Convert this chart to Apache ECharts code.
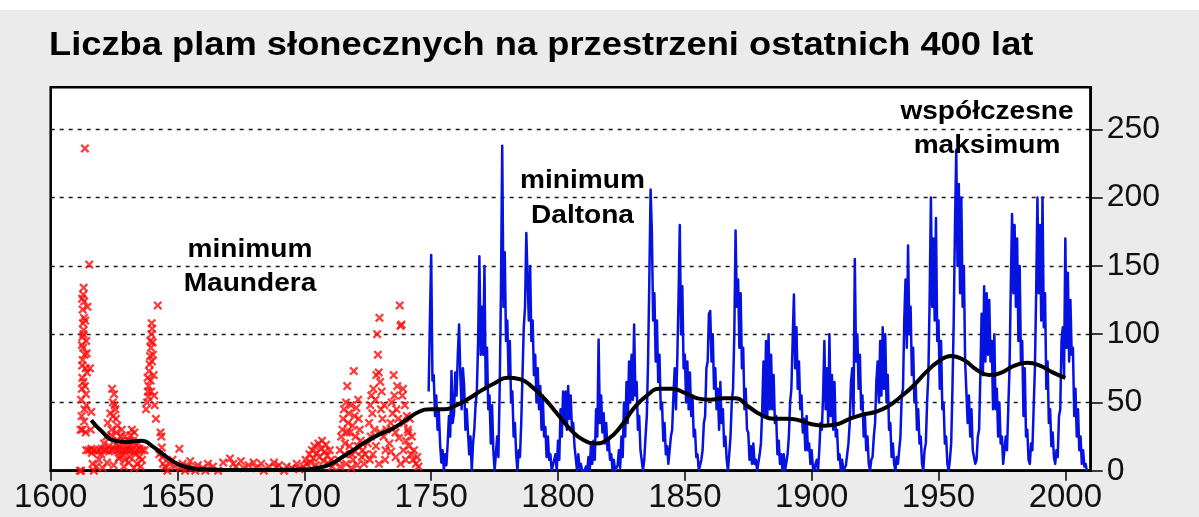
<!DOCTYPE html>
<html lang="pl">
<head>
<meta charset="utf-8">
<title>Liczba plam słonecznych na przestrzeni ostatnich 400 lat</title>
<script src="https://cdn.jsdelivr.net/npm/echarts@6/dist/echarts.min.js"></script>
<style>
  html, body { margin: 0; padding: 0; background: #ebebeb; }
  #chart {
    width: 1199px; height: 517px;
    background: linear-gradient(#ffffff 0, #ffffff 10px, #ebebeb 10px, #ebebeb 100%);
  }
</style>
</head>
<body>
<div id="chart"></div>
<script>
// Axis ticks
const xTicks = [1600, 1650, 1700, 1750, 1800, 1850, 1900, 1950, 2000];
const yTicks = [0, 50, 100, 150, 200, 250];

// Telescopic group counts before regular records: [year, sunspot number]
const groupSpots = [
  [1611.5,0],[1612,0],[1611.8,30],[1612,52],[1612.3,60],[1612.5,68],[1612.4,77],[1612.6,81],
  [1612.8,90],[1612.5,98],[1612.9,100],[1613,103],[1612.7,108],[1613.1,112],[1612.6,118],
  [1613.2,124],[1612.8,129],[1613,134],[1613.5,236],[1615.2,151],[1614.5,120],[1614,95],
  [1614.2,86],[1613.8,75],[1614.3,72],[1613.5,62],[1613.9,56],[1614.1,48],[1613.3,45],
  [1615.5,75],[1616,43],[1615.8,30],[1612.5,30],[1613.8,28],[1616.2,13],
  [1612.2,40],[1612.9,65],[1613.4,85],[1612.3,92],[1613.6,110],[1612.4,126],[1613.2,36],
  [1614,15],[1615,15],[1616,16],[1617,15],[1618,14],[1619,15],[1620,16],[1621,15],[1622,15],
  [1623,14],[1624,15],[1625,16],[1626,15],[1627,15],[1628,14],[1629,15],[1630,16],[1631,15],
  [1632,15],[1633,14],[1634,15],[1635,16],[1636,15],[1637,15],
  [1616.5,5],[1617,0],[1618,3],[1619,8],[1620,12],[1621,20],[1622,25],[1622.5,35],[1623,18],
  [1623.5,42],[1624,30],[1624.5,50],[1625,56],[1624.2,60],[1625.5,45],[1625.7,38],[1626,28],
  [1626.3,33],[1626.5,22],[1627,18],[1627.5,25],[1628,30],[1628.5,12],[1629,20],[1629.5,8],
  [1630,15],[1630.5,22],[1631,18],[1631.5,26],[1632,30],[1632.5,22],[1633,28],[1633.5,12],
  [1634,5],[1634.5,20],[1635,10],[1635.5,3],[1636,8],[1620.5,2],[1622.2,6],[1624.8,4],
  [1626.8,9],[1628.8,3],[1630.8,6],[1632.8,2],[1623.8,26],[1624.6,40],[1625.2,48],
  [1625.9,20],[1627.2,10],[1629.2,25],[1631.2,10],[1633.2,20],
  [1637.6,45],[1638,50],[1638.3,58],[1638.6,62],[1638.2,68],[1638.8,73],[1639,78],[1639.2,84],
  [1639.5,90],[1639.3,95],[1639.7,100],[1640,104],[1639.8,108],[1640.3,85],[1640.6,70],
  [1640.8,55],[1641,48],[1642.2,121],[1641.5,38],[1643.3,28],[1643.6,25],[1643.8,17],
  [1644,10],[1644.3,5],[1642.8,12],[1645,3],[1646,0],[1638.5,54],[1639.4,66],[1639.9,80],
  [1640.2,94],[1639.6,58],
  [1650.7,16],[1647,5],[1648,8],[1649,3],[1651,2],[1652,5],[1653,0],[1654,3],[1655,7],
  [1656,2],[1657,0],[1658,4],[1660,2],[1661,0],[1662,5],[1664,3],[1666,0],[1668,6],
  [1670.7,9],[1672,5],[1673,3],[1675,7],[1676,2],[1678,4],[1680,6],[1681,2],[1683,5],
  [1684,0],[1686,3],[1688,6],[1689,2],[1690,4],[1692,0],[1693,3],[1695,2],[1697,5],[1698,1],
  [1699.6,3],[1700.5,8],[1701,5],[1702,12],[1702.5,6],[1703,15],[1703.5,9],[1704,18],
  [1704.5,4],[1705,13],[1705.5,20],[1706,10],[1706.5,16],[1707,22],[1707.5,7],[1708,14],
  [1708.5,19],[1709,11],[1709.5,5],[1710,15],[1710.5,8],[1711,3],[1712,6],
  [1713.5,8],[1714,15],[1714.5,25],[1715,30],[1715.3,38],[1715.6,45],[1716,20],[1716.4,50],
  [1716.9,62],[1717.2,35],[1717.5,42],[1718,28],[1718.3,48],[1718.7,12],[1719,33],
  [1719.5,73],[1719.8,40],[1720.2,25],[1720.5,46],[1721,18],[1721.4,38],[1721.8,30],
  [1722.2,22],[1722.6,10],[1723,15],[1723.5,5],[1724,12],[1714.2,3],[1716.5,5],[1718.5,2],
  [1720.8,4],[1715.8,12],[1716.8,28],[1717.8,18],[1719.2,8],[1720,14],[1721.2,52],
  [1725,20],[1725.5,35],[1726,48],[1726.4,55],[1726.8,42],[1727.2,60],[1727.6,30],[1728,52],
  [1728.4,70],[1728.7,100],[1729,85],[1729.3,72],[1729.6,112],[1729.9,65],[1730.2,45],
  [1730.5,58],[1730.8,38],[1731.2,25],[1731.5,48],[1732,15],[1732.4,30],[1725.8,8],
  [1727,12],[1729.4,5],[1726.2,25],[1728.2,18],[1730,28],[1731.8,8],
  [1733.5,20],[1734,35],[1734.4,50],[1734.8,42],[1735.2,70],[1735.5,55],[1735.9,28],
  [1736.3,45],[1736.6,62],[1737,38],[1737.6,121],[1737.9,106],[1738.3,107],[1738.6,55],
  [1738.9,60],[1739.2,35],[1739.6,48],[1740,22],[1740.4,40],[1740.8,30],[1741.2,18],
  [1741.6,38],[1742,12],[1742.4,25],[1742.8,8],[1743.2,15],[1744,5],[1744.5,10],[1745,3],
  [1736,10],[1738,5],[1740,8],[1734.2,14],[1737.3,24],[1739,15],[1741,28]
];

// Observed sunspot numbers from 1749: two readings per year (early, mid-year)
const observedStart = 1749;
const observedSpots = [
  [58,110],[158,66],[70,40],[55,30],[44,20],[6,15],[0,12],[4,20],[40,25],[73,35],
  [42,72],[55,85],[107,70],[45,75],[62,30],[45,28],[12,25],[0,20],[30,48],[58,95],
  [157,85],[120,85],[150,60],[90,45],[55,20],[48,15],[0,12],[25,10],[60,130],[238,120],
  [160,95],[110,70],[95,50],[58,25],[35,12],[0,15],[10,35],[70,105],[120,174],[140,110],
  [150,95],[110,70],[85,50],[75,45],[62,30],[55,25],[32,10],[25,8],[12,0],[0,8],
  [12,0],[22,8],[45,25],[58,35],[58,30],[62,38],[55,30],[35,18],[18,0],[12,2],
  [5,0],[0,0],[3,0],[10,0],[20,5],[22,8],[45,25],[96,35],[55,28],[42,20],
  [35,15],[22,8],[12,0],[8,0],[0,4],[15,2],[25,10],[50,25],[65,35],[80,50],
  [85,52],[107,55],[65,30],[40,15],[15,0],[8,25],[40,80],[140,206],[175,110],[130,80],
  [110,65],[85,45],[50,22],[35,12],[18,5],[5,25],[30,55],[75,45],[80,125],[180,100],
  [135,75],[85,50],[80,45],[72,40],[55,25],[30,10],[12,0],[0,8],[15,35],[40,75],
  [80,115],[117,80],[100,60],[75,45],[60,30],[65,35],[45,18],[25,8],[0,12],[25,50],
  [60,100],[176,120],[140,90],[130,75],[90,45],[60,30],[28,8],[18,5],[20,5],[8,0],
  [0,12],[20,45],[80,40],[95,40],[100,45],[85,45],[70,35],[40,12],[22,5],[12,0],
  [12,0],[0,12],[25,50],[60,95],[129,75],[105,60],[80,45],[55,28],[38,15],[40,15],
  [20,5],[15,2],[0,5],[8,0],[15,35],[30,55],[95,45],[75,35],[100,40],[70,30],
  [65,25],[30,8],[12,0],[8,0],[0,4],[5,20],[35,65],[75,40],[155,80],[100,60],
  [85,45],[55,25],[40,15],[25,5],[0,8],[10,25],[35,65],[80,50],[95,55],[105,60],
  [100,50],[70,30],[35,10],[20,5],[0,10],[5,15],[25,55],[60,110],[140,90],[165,100],
  [120,70],[90,50],[65,30],[45,20],[25,5],[0,15],[20,50],[70,125],[200,120],[170,110],
  [185,95],[110,60],[95,45],[50,20],[25,5],[0,8],[20,60],[110,180],[235,150],[210,130],
  [200,120],[150,80],[80,35],[55,25],[45,15],[15,5],[8,25],[30,70],[115,70],[135,80],
  [130,85],[125,80],[95,45],[100,45],[60,25],[50,20],[25,5],[5,25],[15,45],[75,135],
  [188,130],[180,120],[170,95],[150,80],[95,40],[75,25],[30,8],[5,20],[15,45],[75,130],
  [200,130],[180,110],[200,105],[130,60],[80,35],[45,18],[28,10],[5,15],[10,40],[45,95],
  [105,70],[170,90],[145,80],[125,85],[90,40],[60,25],[45,15],[25,5],[15,3],[5,0]
];

// Long-term smoothed activity
const smoothYears = [1616,1620,1625,1630,1636,1640,1645,1650,1655,1660,1670,1680,1690,1700,
  1705,1710,1715,1720,1725,1730,1735,1740,1745,1750,1755,1760,1765,1770,1775,1780,1785,
  1790,1795,1800,1805,1810,1815,1820,1825,1830,1835,1840,1845,1850,1855,1860,1865,1870,
  1875,1880,1885,1890,1895,1900,1905,1910,1915,1920,1925,1930,1935,1940,1945,1950,1955,
  1960,1965,1970,1975,1980,1985,1990,1995,2000];
const smoothValues = [37,29,22,21,22,18,11,5,2,1,0.5,0.5,0.5,0.8,
  2,4.5,10,16,22,27,31,37,43,45,45,48,53,59,64,68,67,
  61,52,41,30,22.5,20,23.5,33,46,55,60,60,57,53,52,53,53,
  47,41,38,38,37,34,33,34,38,41,43,47,54,62,72,80,84,
  81,74,70,72,77,79,77,72,68];

const observedData = [];
observedSpots.forEach((pair, i) => {
  observedData.push([observedStart + i, pair[0]]);
  observedData.push([observedStart + i + 0.5, pair[1]]);
});
const smoothData = smoothYears.map((y, i) => [y, smoothValues[i]]);

// Filled "x" marker
const crossPath = 'path://M0,1.8L1.8,0L5,3.2L8.2,0L10,1.8L6.8,5L10,8.2L8.2,10L5,6.8L1.8,10L0,8.2L3.2,5Z';
const textFont = 'bold 26px "Liberation Sans", Arial, sans-serif';

function label(text, x, y) {
  return {
    type: 'text', x: x, y: y, scaleX: 1.08, z: 100,
    style: { text: text, font: textFont, fill: '#000', textAlign: 'center', verticalAlign: 'middle', textVerticalAlign: 'middle' }
  };
}

const chart = echarts.init(document.getElementById('chart'));
chart.setOption({
  animation: false,
  backgroundColor: 'transparent',
  grid: {
    left: 50.7, top: 87.3, width: 1040, height: 383.4,
    show: true, backgroundColor: '#ffffff', borderColor: '#000', borderWidth: 2.5,
    outerBoundsMode: 'none', containLabel: false
  },
  xAxis: {
    type: 'value', min: 1600, max: 2010, interval: 50,
    axisLine: { show: true, onZero: false, lineStyle: { color: '#000', width: 2.5 } },
    axisTick: { show: true, length: 10, lineStyle: { color: '#000', width: 1.5 }, customValues: xTicks },
    axisLabel: {
      color: '#111', fontSize: 33, fontFamily: '"Liberation Sans", Arial, sans-serif',
      margin: 11, customValues: xTicks,
      formatter: v => String(v)
    },
    splitLine: { show: false }
  },
  yAxis: {
    type: 'value', position: 'right', min: 0, max: 280.8, interval: 50,
    axisLine: { show: true, lineStyle: { color: '#000', width: 2.5 } },
    axisTick: { show: true, length: 12, lineStyle: { color: '#000', width: 1.5 }, customValues: yTicks },
    axisLabel: {
      color: '#111', fontSize: 32, fontFamily: '"Liberation Sans", Arial, sans-serif',
      margin: 16, customValues: yTicks,
      formatter: v => String(v)
    },
    splitLine: { show: true, lineStyle: { color: '#1a1a1a', width: 1.3, type: [4, 5] } }
  },
  series: [
    {
      name: 'group', type: 'scatter', data: groupSpots,
      symbol: crossPath, symbolSize: 9,
      itemStyle: { color: '#ff0a0a' }, z: 2
    },
    {
      name: 'observed', type: 'line', data: observedData,
      showSymbol: false, symbol: 'none',
      lineStyle: { color: '#0612e0', width: 2.5, join: 'round' }, z: 3
    },
    {
      name: 'smoothed', type: 'line', data: smoothData,
      showSymbol: false, symbol: 'none', smooth: 0.5,
      lineStyle: { color: '#000', width: 4 }, z: 4
    }
  ],
  graphic: [
    {
      type: 'text', x: 49, y: 46, scaleX: 1.1, z: 100,
      style: {
        text: 'Liczba plam słonecznych na przestrzeni ostatnich 400 lat',
        font: 'bold 33px "Liberation Sans", Arial, sans-serif', fill: '#000',
        textAlign: 'left', verticalAlign: 'middle', textVerticalAlign: 'middle'
      }
    },
    label('minimum', 250, 249.5),
    label('Maundera', 250, 283.5),
    label('minimum', 582.5, 181),
    label('Daltona', 582.5, 216),
    label('współczesne', 987, 112),
    label('maksimum', 987, 146)
  ]
});
</script>
</body>
</html>
